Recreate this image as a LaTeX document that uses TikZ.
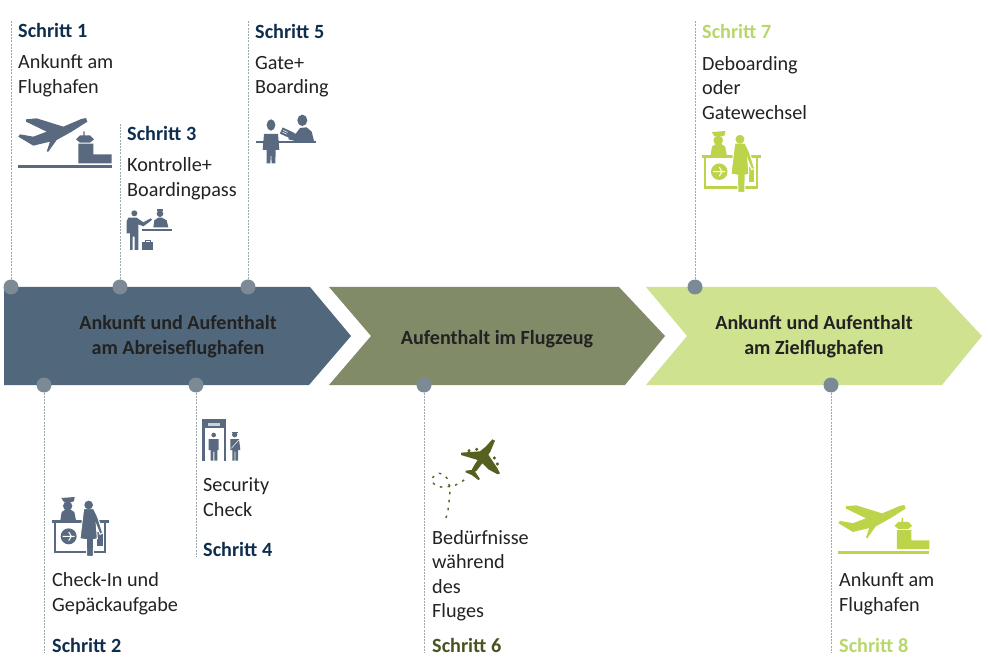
\documentclass[tikz,border=0pt]{standalone}
\usepackage{fontspec}
\setmainfont{Carlito}
\definecolor{fpblue}{RGB}{81,104,124}
\definecolor{fpolive}{RGB}{130,139,104}
\definecolor{fplime}{RGB}{207,226,143}
\definecolor{fpnavy}{RGB}{15,46,78}
\definecolor{fpicon}{RGB}{88,105,128}
\definecolor{fpgreen}{RGB}{188,212,73}
\definecolor{fpstep}{RGB}{184,215,106}
\definecolor{fpdark}{RGB}{72,84,32}
\definecolor{fpplane}{RGB}{86,96,31}
\definecolor{fpdot}{RGB}{123,138,148}
\definecolor{fpline}{RGB}{155,168,172}
\definecolor{fptext}{RGB}{34,34,34}
\usetikzlibrary{positioning}

\begin{document}
\begin{tikzpicture}[x=1pt, y=-1pt,
  title/.style={font=\fontsize{20.1}{24.5}\selectfont\bfseries, text=fptext, align=center, inner sep=0pt},
  stepno/.style={font=\fontsize{20.2}{24}\selectfont\bfseries, text=#1, anchor=west, inner sep=0pt},
  body/.style={font=\fontsize{20.2}{24.5}\selectfont, text=fptext, align=left, anchor=west, inner sep=0pt},
  knob/.style={circle, fill=fpdot, minimum size=15pt, inner sep=0pt},
  guide/.style={draw=fpline, line width=1pt, dash pattern=on 2pt off 1.2pt},
  planetower/.pic={
    \fill[#1] (24,7) -- (56,4) -- (136,29) -- (190,6) -- (204,3) -- (208,14) -- (161,44) -- (116,69)
      -- (91,104) -- (86,104) -- (96,74) -- (46,86) -- (1,59) -- (6,52) -- (46,59) -- (86,44) -- (24,14) -- cycle;
    \fill[#1] (174,67) -- (186,55) -- (196,55) -- (196,43) -- (200,43) -- (200,55) -- (216,55) -- (228,67)
      -- (216,77) -- (186,77) -- cycle;
    \fill[#1] (181,80) -- (226,80) -- (226,112) -- (281,112) -- (281,139) -- (181,139) -- cycle;
    \fill[#1] (1,145) rectangle (281,154);
  },
  checkdesk/.pic={
    \fill[#1] (28,3) -- (68,0) -- (66,12) -- (60,15) -- (36,15) -- cycle;
    \fill[#1] (47,27) circle (14);
    \fill[#1] (25,70) -- (29,45) -- (40,38) -- (56,38) -- (67,45) -- (72,70) -- cycle;
    \fill[#1] (0,70) rectangle (170,78);
    \draw[#1, line width=2.3pt] (9,78) -- (9,164) -- (160,164) -- (160,78);
    \fill[#1] (50,118) circle (24);
    \draw[white, line width=1pt] (32,118) -- (68,118) (50,105) -- (58,118) -- (50,131);
    \fill[#1] (135,105) rectangle (152,148);
    \draw[white, line width=1pt, fill=#1] (95,35) -- (125,35) -- (137,60) -- (152,108) -- (144,112) -- (133,85)
      -- (136,125) -- (125,128) -- (124,178) -- (104,178) -- (103,128) -- (84,125) -- (92,60) -- cycle;
    \fill[#1] (110,24) circle (13);
  },
  % small agent and passenger with bag
  passdesk/.pic={
    \fill[#1] (43,25) circle (9);
    \fill[#1] (25,38) -- (50,38) -- (70,52) -- (88,42) -- (92,48) -- (70,64) -- (55,58) -- (55,135) -- (44,135)
      -- (44,95) -- (38,95) -- (38,135) -- (30,135) -- (30,85) -- (20,85) -- (20,48) -- cycle;
    \fill[#1] (92,44) circle (4);
    \fill[#1] (65,72) rectangle (155,79);
    \fill[#1] (110,12) rectangle (130,18);
    \fill[#1] (120,26) circle (10);
    \fill[#1] (100,67) -- (103,46) -- (115,38) -- (126,38) -- (140,46) -- (145,67) -- cycle;
    \fill[#1] (67,112) rectangle (98,135);
    \draw[#1, line width=0.7pt] (75,112) -- (75,105) -- (90,105) -- (90,112);
  },
  % gate agent and ticket
  gatedesk/.pic={
    \fill[#1] (63,45) ellipse (13 and 17);
    \fill[#1] (42,72) -- (84,72) -- (88,120) -- (77,120) -- (76,160) -- (65,160) -- (63,125) -- (61,160) -- (50,160)
      -- (50,120) -- (38,120) -- cycle;
    \fill[#1] (18,93) rectangle (198,98);
    \fill[#1] (157,31) ellipse (15 and 17);
    \fill[#1] (135,93) -- (115,88) -- (118,78) -- (138,70) -- (150,54) -- (170,52) -- (185,65) -- (192,93) -- cycle;
    \fill[#1, rotate around={-25:(112,70)}] (92,60) rectangle (132,80);
    \draw[white, line width=0.5pt, rotate around={-25:(112,70)}] (97,67) -- (112,67) (97,73) -- (112,73);
  },
  % scanner gate
  scanner/.pic={
    \fill[#1] (13,12) rectangle (85,40);
    \fill[white!70!#1] (30,24) rectangle (66,32);
    \fill[#1] (13,40) rectangle (21,137);
    \fill[#1] (77,40) rectangle (85,137);
    \fill[#1] (47,60) circle (7);
    \fill[#1] (32,72) -- (62,72) -- (62,105) -- (58,105) -- (58,137) -- (49,137) -- (49,110) -- (46,110) -- (46,137)
      -- (38,137) -- (38,105) -- (32,105) -- cycle;
    \fill[#1] (110,59) circle (8);
    \fill[#1] (103,50) rectangle (120,54);
    \fill[#1] (97,72) -- (123,72) -- (127,105) -- (120,105) -- (120,137) -- (112,137) -- (112,110) -- (110,110)
      -- (110,137) -- (103,137) -- (103,105) -- (97,105) -- cycle;
    \draw[white, line width=0.5pt] (100,100) -- (122,75);
  },
  % plane with dotted track
  flightpath/.pic={
    \fill[#1] (202,28) -- (210,32) -- (196,65) -- (190,74) -- (218,116) -- (225,130) -- (218,133) -- (190,118) -- (172,100)
      -- (155,122) -- (150,125) -- (165,147) -- (160,150) -- (140,135) -- (122,127) -- (122,122) -- (140,120)
      -- (148,105) -- (158,90) -- (108,75) -- (108,68) -- (165,64) -- (182,50) -- cycle;
    \fill[#1] (132,62) circle (5);
    \fill[#1] (155,58) circle (5);
    \fill[#1] (208,84) circle (5);
    \fill[#1] (217,102) circle (5);
    \draw[#1, line width=1.4pt, dash pattern=on 2.5pt off 5.5pt]
      plot[smooth] coordinates {(63,264) (69,240) (72,216) (74,192) (76,170) (55,172) (30,165) (20,147) (42,130)
        (65,143) (76,170) (105,158) (127,143)};
  }
]
\useasboundingbox (0,0) rectangle (988,660);

% arrows
\fill[fpblue] (4,287) -- (310,287) -- (351,336) -- (309,385) -- (4,385) -- cycle;
\fill[fpolive] (329,287) -- (619,287) -- (665,336) -- (625,385) -- (329,385) -- (371,336) -- cycle;
\fill[fplime] (646,287) -- (936,287) -- (982,336) -- (942,385) -- (646,385) -- (687,336) -- cycle;

\node[title] (abreise) at (178,336.5) {Ankunft und Aufenthalt\\am Abreiseflughafen};
\node[title] (flugzeug) at (497,339) {Aufenthalt im Flugzeug};
\node[title] (ziel) at (814,336.5) {Ankunft und Aufenthalt\\am Zielflughafen};

% knobs on the arrows
\node[knob] (k1) at (11,287) {};
\node[knob] (k3) at (120,287) {};
\node[knob] (k5) at (248,287) {};
\node[knob] (k7) at (695,287) {};
\node[knob] (k2) at (44,385) {};
\node[knob] (k4) at (196,385) {};
\node[knob] (k6) at (424,385) {};
\node[knob] (k8) at (831,385) {};

\coordinate (e1) at (11,21);
\coordinate (e3) at (120,124);
\coordinate (e5) at (248,21);
\coordinate (e7) at (695,21);
\coordinate (e2) at (44,652);
\coordinate (e4) at (196,556);
\coordinate (e6) at (424,652);
\coordinate (e8) at (831,652);

\foreach \n in {1,...,8}
  \draw[guide] (k\n) -- (e\n);

% upper steps
\node[stepno=fpnavy] (s1) at (18,30) {Schritt 1};
\node[body] (t1) at (18,75.5) {Ankunft am\\Flughafen};
\node[stepno=fpnavy] (s3) at (127,133) {Schritt 3};
\node[body] (t3) at (127,178.5) {Kontrolle+\\Boardingpass};
\node[stepno=fpnavy] (s5) at (255,31) {Schritt 5};
\node[body] (t5) at (255,76.5) {Gate+\\Boarding};
\node[stepno=fpstep] (s7) at (702,31) {Schritt 7};
\node[body] (t7) at (702,88) {Deboarding\\oder\\Gatewechsel};

% lower steps
\node[body] (t2) at (52,593.5) {Check-In und\\Gepäckaufgabe};
\node[stepno=fpnavy] (s2) at (52,645) {Schritt 2};
\node[body] (t4) at (203,497) {Security\\Check};
\node[stepno=fpnavy] (s4) at (203,549) {Schritt 4};
\node[body] (t6) at (432,575.5) {Bedürfnisse\\während\\des\\Fluges};
\node[stepno=fpdark] (s6) at (432,645) {Schritt 6};
\node[body] (t8) at (839,593.5) {Ankunft am\\Flughafen};
\node[stepno=fpstep] (s8) at (839,645) {Schritt 8};

% icons
\pic[scale=1/3] at (18,117) {planetower=fpicon};
\pic[scale=0.325] at (838,504) {planetower=fpgreen};
\pic[scale=1/3] at (52,497) {checkdesk=fpicon};
\pic[scale=0.345] at (702,131) {checkdesk=fpgreen};
\pic[scale=1/3] at (120,205) {passdesk=fpicon};
\pic[scale=1/3] at (250,110) {gatedesk=fpicon};
\pic[scale=1/3] at (198,415) {scanner=fpicon};
\pic[scale=1/3] at (425,430) {flightpath=fpplane};
\end{tikzpicture}
\end{document}
